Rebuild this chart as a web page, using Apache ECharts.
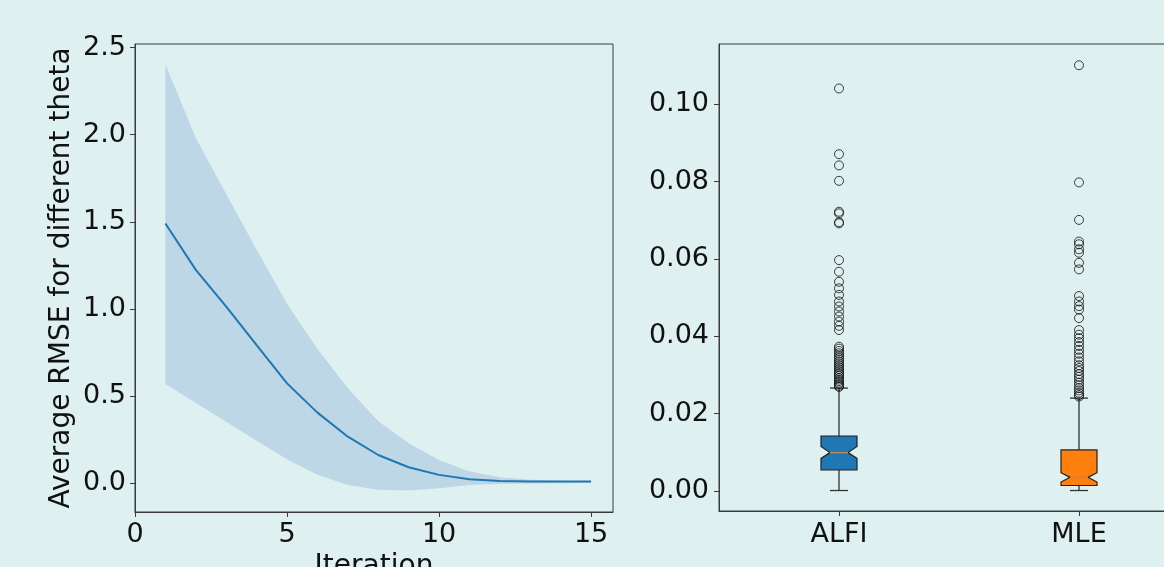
<!DOCTYPE html>
<html>
<head>
<meta charset="utf-8">
<script src="https://cdn.jsdelivr.net/npm/echarts@6/dist/echarts.min.js"></script>
<style>
html,body{margin:0;padding:0;background:#dff0f0;}
#chart{width:1164px;height:567px;}
</style>
</head>
<body>
<div id="chart"></div>
<script>
// ---- Left panel data ----
const iterations = [1,2,3,4,5,6,7,8,9,10,11,12,13,14,15];
const meanRMSE  = [1.49,1.224,1.013,0.793,0.573,0.405,0.267,0.162,0.092,0.048,0.023,0.013,0.010,0.010,0.010];
const upperRMSE = [2.404,1.98,1.66,1.34,1.03,0.77,0.545,0.355,0.229,0.134,0.067,0.034,0.020,0.015,0.012];
const lowerRMSE = [0.569,0.46,0.353,0.244,0.138,0.048,-0.010,-0.038,-0.042,-0.029,-0.010,-0.004,-0.002,0.000,0.002];
const leftYTicks = [0,0.5,1.0,1.5,2.0,2.5];
const leftXTicks = [0,5,10,15];

// ---- Right panel data ----
const methods = ['ALFI','MLE'];
// [whiskerLow, q1, notchLow, median, notchHigh, q3, whiskerHigh]
const boxALFI = [0.0001,0.0054,0.0084,0.0099,0.0115,0.0142,0.0266];
const boxMLE  = [0.0001,0.0014,0.0023,0.0035,0.0047,0.0106,0.0240];
const outliersALFI = [0.1041,0.0871,0.0842,0.0802,0.0722,0.0718,0.0695,0.0692,
  0.0597,0.0567,0.0541,0.0524,0.0507,0.0490,0.0477,0.0464,0.0451,0.0438,0.0427,0.0416,
  0.0373,0.0368,0.0362,0.0356,0.0350,0.0345,0.0340,0.0335,0.0330,0.0325,0.0320,0.0315,
  0.0310,0.0305,0.0301,0.0297,0.0292,0.0288,0.0284,0.0280,0.0276,0.0272,0.0269];
const outliersMLE = [0.1101,0.0798,0.0701,0.0645,0.0638,0.0625,0.0616,0.0590,0.0573,
  0.0504,0.0490,0.0478,0.0469,0.0447,0.0416,0.0404,0.0395,0.0385,0.0375,0.0365,0.0355,
  0.0345,0.0335,0.0325,0.0318,0.0310,0.0302,0.0295,0.0288,0.0280,0.0273,0.0266,0.0260,
  0.0254,0.0248,0.0244];
const rightYTicks = [0,0.02,0.04,0.06,0.08,0.10];

const boxColors = ['#1f77b4','#ff7f0e'];
const font = 'DejaVu Sans';
const axisColor = '#3a3a3a';
const textColor = '#111';

const lineData = iterations.map((x,i)=>[x, meanRMSE[i]]);
const bandData = iterations.map((x,i)=>[x, lowerRMSE[i], upperRMSE[i]]);
const boxes = [boxALFI, boxMLE].map((b,i)=>[i].concat(b));
const scatterData = [];
outliersALFI.forEach(v=>scatterData.push([0,v]));
outliersMLE.forEach(v=>scatterData.push([1,v]));

function renderBand(params, api){
  if (params.dataIndex !== 0) return;
  const top = bandData.map(d=>api.coord([d[0], d[2]]));
  const bot = bandData.map(d=>api.coord([d[0], d[1]])).reverse();
  return {type:'polygon', shape:{points: top.concat(bot)},
          style:{fill:'#bdd7e6'}, silent:true};
}

function renderBox(params, api){
  const idx = api.value(0);
  const wl = api.value(1), q1 = api.value(2), nl = api.value(3), med = api.value(4),
        nh = api.value(5), q3 = api.value(6), wh = api.value(7);
  const band = api.size([1,0])[0];
  const w = band*0.15;
  const cx = api.coord([idx, med])[0];
  const y = v => api.coord([idx, v])[1];
  const L = cx - w/2, R = cx + w/2, cl = cx - w/4, cr = cx + w/4;
  const pts = [[L,y(q1)],[R,y(q1)],[R,y(nl)],[cr,y(med)],[R,y(nh)],[R,y(q3)],
               [L,y(q3)],[L,y(nh)],[cl,y(med)],[L,y(nl)]];
  const ws = {stroke:'#333',lineWidth:1.3};
  return {type:'group', children:[
    {type:'line', shape:{x1:cx,y1:y(q1),x2:cx,y2:y(wl)}, style:ws},
    {type:'line', shape:{x1:cx,y1:y(q3),x2:cx,y2:y(wh)}, style:ws},
    {type:'line', shape:{x1:cl,y1:y(wl),x2:cr,y2:y(wl)}, style:ws},
    {type:'line', shape:{x1:cl,y1:y(wh),x2:cr,y2:y(wh)}, style:ws},
    {type:'polygon', shape:{points:pts}, style:{fill:boxColors[idx], stroke:'#222', lineWidth:1.2}},
    {type:'line', shape:{x1:cl,y1:y(med),x2:cr,y2:y(med)}, style:{stroke:'#c08850',lineWidth:1.5}}
  ]};
}

const chart = echarts.init(document.getElementById('chart'), null, {renderer:'canvas'});
const labelStyle = {color:textColor, fontFamily:font, fontSize:27};
chart.setOption({
  backgroundColor:'#dff0f0',
  animation:false,
  grid:[
    {left:135, top:44, width:478, height:468, outerBoundsMode:'none', containLabel:false,
     show:true, borderColor:axisColor, borderWidth:1, backgroundColor:'transparent'},
    {left:719, top:44, width:480, height:467, outerBoundsMode:'none', containLabel:false,
     show:true, borderColor:axisColor, borderWidth:1, backgroundColor:'transparent'}
  ],
  xAxis:[
    {type:'value', gridIndex:0, min:0, max:15.72,
     axisLine:{show:true, onZero:false, lineStyle:{color:axisColor}},
     axisTick:{show:true, length:5, customValues:leftXTicks, lineStyle:{color:axisColor}},
     axisLabel:Object.assign({margin:9, customValues:leftXTicks, formatter:v=>String(v)}, labelStyle),
     splitLine:{show:false},
     name:'Iteration', nameLocation:'middle', nameGap:40,
     nameTextStyle:{color:textColor, fontFamily:font, fontSize:28}},
    {type:'category', gridIndex:1, data:methods, boundaryGap:true,
     axisLine:{show:true, onZero:false, lineStyle:{color:axisColor}},
     axisTick:{show:true, length:5, alignWithLabel:true, lineStyle:{color:axisColor}},
     axisLabel:Object.assign({margin:10}, labelStyle),
     splitLine:{show:false}}
  ],
  yAxis:[
    {type:'value', gridIndex:0, min:-0.165, max:2.52,
     axisLine:{show:true, onZero:false, lineStyle:{color:axisColor}},
     axisTick:{show:true, length:5, customValues:leftYTicks, lineStyle:{color:axisColor}},
     axisLabel:Object.assign({margin:9, customValues:leftYTicks, formatter:v=>v.toFixed(1)}, labelStyle),
     splitLine:{show:false},
     name:'Average RMSE for different theta', nameLocation:'middle', nameGap:59,
     nameTextStyle:{color:textColor, fontFamily:font, fontSize:28}},
    {type:'value', gridIndex:1, min:-0.0052, max:0.1156,
     axisLine:{show:true, onZero:false, lineStyle:{color:axisColor}},
     axisTick:{show:true, length:5, customValues:rightYTicks, lineStyle:{color:axisColor}},
     axisLabel:Object.assign({margin:10, customValues:rightYTicks, formatter:v=>v.toFixed(2)}, labelStyle),
     splitLine:{show:false}}
  ],
  series:[
    {type:'custom', xAxisIndex:0, yAxisIndex:0, data:bandData, renderItem:renderBand,
     encode:{x:0, y:[1,2]}, z:1, silent:true},
    {type:'line', xAxisIndex:0, yAxisIndex:0, data:lineData, symbol:'none',
     lineStyle:{color:'#1f77b4', width:2}, z:5},
    {type:'custom', xAxisIndex:1, yAxisIndex:1, data:boxes, renderItem:renderBox,
     encode:{x:0, y:[1,2,3,4,5,6,7]}, z:3},
    {type:'scatter', xAxisIndex:1, yAxisIndex:1, data:scatterData, symbol:'circle', symbolSize:9,
     itemStyle:{color:'rgba(0,0,0,0)', borderColor:'#111', borderWidth:1}, z:4}
  ]
});
</script>
</body>
</html>
